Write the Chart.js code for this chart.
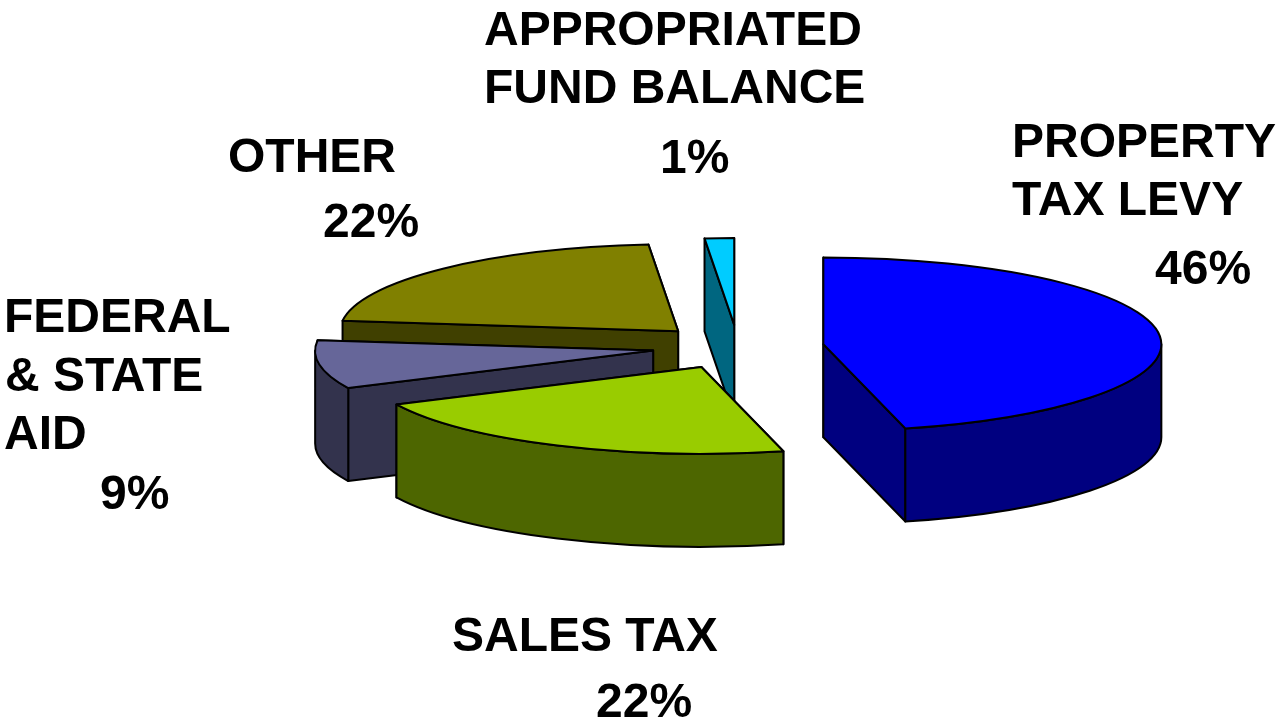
<!DOCTYPE html>
<html>
<head>
<meta charset="utf-8">
<style>
  body { margin: 0; background: #fff; }
  #wrap { width: 1277px; height: 719px; }
</style>
<script src="https://cdn.jsdelivr.net/npm/chart.js@4"></script>
</head>
<body>
<div id="wrap"><canvas id="budgetPie" width="1277" height="719"></canvas></div>
<script>
const categories = ['PROPERTY TAX LEVY', 'SALES TAX', 'FEDERAL & STATE AID', 'OTHER', 'APPROPRIATED FUND BALANCE'];
const values = [46.1, 21.8, 9.0, 21.7, 1.4];
const topColors = ['#0000ff', '#99cc00', '#666699', '#808000', '#00ccff'];
const sideColors = ['#000080', '#4d6600', '#33334d', '#404000', '#006680'];

// back to front, so nearer slices cover the walls behind them
const drawOrder = [4, 3, 2, 1, 0];

const squash = 0.257;
const depth = 93;
const explode = 86;

// text lines of each slice label, the last one gets the percentage
const labelLines = [
  [['PROPERTY', 1012, 157], ['TAX LEVY', 1012, 215], [null, 1155, 284]],
  [['SALES TAX', 452, 651], [null, 596, 717]],
  [['FEDERAL', 4, 332], ['& STATE', 5, 391], ['AID', 4, 449], [null, 100, 509]],
  [['OTHER', 228, 172], [null, 323, 237]],
  [['APPROPRIATED', 484, 45], ['FUND BALANCE', 484, 103], [null, 660, 173]]
];

// point on the flattened top face of a slice
function facePoint(c, angle, r) {
  return { x: c.x + Math.cos(angle) * r, y: c.y + Math.sin(angle) * r * squash };
}

function quad(ctx, a, b, fill) {
  ctx.beginPath();
  ctx.moveTo(a.x, a.y);
  ctx.lineTo(b.x, b.y);
  ctx.lineTo(b.x, b.y + depth);
  ctx.lineTo(a.x, a.y + depth);
  ctx.closePath();
  ctx.fillStyle = fill;
  ctx.fill();
  ctx.stroke();
}

function drawWalls(ctx, arc, c, fill) {
  const r = arc.outerRadius;
  const a = facePoint(c, arc.startAngle, r);
  const b = facePoint(c, arc.endAngle, r);
  // the further radial wall goes first
  const ends = a.y < b.y ? [a, b] : [b, a];
  ends.forEach(p => quad(ctx, c, p, fill));

  // round wall, only the part facing the viewer
  const from = Math.max(arc.startAngle, 0);
  const to = Math.min(arc.endAngle, Math.PI);
  if (to > from) {
    const ry = r * squash;
    ctx.beginPath();
    ctx.ellipse(c.x, c.y, r, ry, 0, from, to);
    ctx.ellipse(c.x, c.y + depth, r, ry, 0, to, from, true);
    ctx.closePath();
    ctx.fillStyle = fill;
    ctx.fill();
    ctx.stroke();
  }
}

const pie3d = {
  id: 'pie3d',
  beforeDatasetDraw(chart, args) {
    const ctx = chart.ctx;
    const arcs = chart.getDatasetMeta(args.index).data;
    ctx.lineWidth = 2;
    ctx.strokeStyle = '#000';
    ctx.lineJoin = 'round';

    drawOrder.forEach(i => {
      const arc = arcs[i];
      const mid = (arc.startAngle + arc.endAngle) / 2;
      const c = {
        x: arc.x + Math.cos(mid) * explode,
        y: arc.y + Math.sin(mid) * explode * squash
      };
      drawWalls(ctx, arc, c, sideColors[i]);

      // top face through the library's own arc element
      ctx.save();
      ctx.translate(c.x - arc.x, c.y);
      ctx.scale(1, squash);
      ctx.translate(0, -arc.y);
      arc.draw(ctx);
      ctx.restore();

      ctx.beginPath();
      ctx.moveTo(c.x, c.y);
      ctx.ellipse(c.x, c.y, arc.outerRadius, arc.outerRadius * squash, 0, arc.startAngle, arc.endAngle);
      ctx.closePath();
      ctx.stroke();
    });
    return false;
  },
  afterDraw(chart) {
    const ctx = chart.ctx;
    const total = values.reduce((s, v) => s + v, 0);
    ctx.save();
    ctx.fillStyle = '#000';
    ctx.font = 'bold 48px "Liberation Sans", Arial, sans-serif';
    ctx.textBaseline = 'alphabetic';
    labelLines.forEach((lines, i) => {
      lines.forEach(([text, x, y]) => {
        const t = text === null ? Math.round(values[i] / total * 100) + '%' : text;
        ctx.fillText(t, x, y);
      });
    });
    ctx.restore();
  }
};

new Chart(document.getElementById('budgetPie'), {
  type: 'pie',
  data: {
    labels: categories,
    datasets: [{
      data: values,
      backgroundColor: topColors,
      borderWidth: 0,
      radius: 338,
      clip: false
    }]
  },
  options: {
    responsive: false,
    animation: false,
    layout: { padding: { left: 199, bottom: 25 } },
    plugins: { legend: { display: false }, tooltip: { enabled: false } }
  },
  plugins: [pie3d]
});
</script>
</body>
</html>
